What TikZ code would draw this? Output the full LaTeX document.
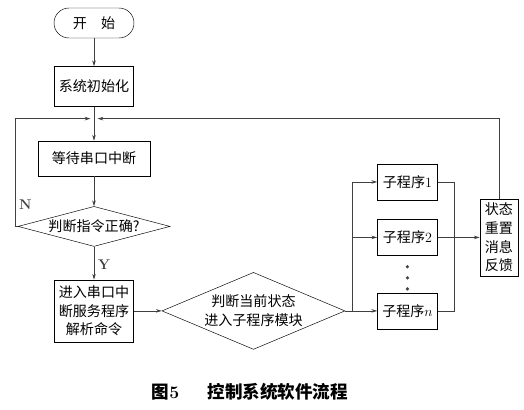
\documentclass[tikz,border=0pt]{standalone}
\usepackage{fontspec}
\newfontfamily\cjk{Noto Sans CJK SC}
\usetikzlibrary{positioning,arrows.meta,shapes.geometric,calc}

\begin{document}
\begin{tikzpicture}[
  x=0.03cm, y=-0.03cm,
  font=\cjk\fontsize{12}{16}\selectfont, >={Stealth[length=5pt,width=3pt]},
  box/.style={draw, align=center, inner sep=1pt,
              minimum width=2.37cm, minimum height=1.2cm},
  term/.style={draw, rounded corners=0.45cm,
               minimum width=2.4cm, minimum height=0.9cm},
  decision/.style={draw, diamond, inner sep=0pt},
  subbox/.style={draw, minimum width=1.8cm, minimum height=1.08cm},
  yn/.style={font=\rmfamily\bfseries\fontsize{12}{14}\selectfont},
  arr/.style={->, line width=0.5pt, color=black!75},
]
\useasboundingbox (0,0) rectangle (524,409);

\node[term] (start) at (94,23) {开\hspace{1em}始};
\node[box, below=0.84cm of start] (init) {系统初始化};
\node[box, minimum width=3.36cm, minimum height=1.05cm, below=1.02cm of init] (wait) {等待串口中断};
\node[decision, minimum width=4.56cm, minimum height=1.2cm, below=0.9cm of wait,
      label=center:{判断指令正确?}] (chk) {};
\node[box, minimum height=1.86cm, below=0.99cm of chk] (svc) {进入串口中\\断服务程序\\解析命令};
\node[decision, minimum width=5.49cm, minimum height=2.31cm, right=0.84cm of svc,
      label={[align=center]center:{判断当前状态\\进入子程序模块}}] (sel) {};

\node[subbox, right=0.96cm of sel] (subn) {子程序$n$};
\node[subbox, above=1.11cm of subn] (sub2) {子程序{\rmfamily 2}};
\node[subbox, above=0.57cm of sub2] (sub1) {子程序{\rmfamily 1}};
\node[box, minimum width=1.14cm, minimum height=2.31cm, right=1.26cm of sub2] (state)
  {状态\\重置\\消息\\反馈};

\node[font=\cjk\fontsize{15}{18}\selectfont\bfseries] (cap) at (250,392)
  {图{\rmfamily 5}\hspace{1.6em}控制系统软件流程};

\coordinate (mrg) at ($(init.south)!0.35!(wait.north)$);
\coordinate (bus) at ($(sel.east)+(7,0)$);
\coordinate (col) at ($(sub2.east)+(17,0)$);

\draw[arr] (start) -- (init);
\draw[arr] (init) -- (wait);
\draw[arr] (wait) -- (chk);
\draw[arr] (chk) -- node[pos=0.55, right, yn] {Y} (svc);
\draw[arr] (chk.west) -- ++(-2.5pt,0) |- node[pos=0.1, right, yn] {N} ([xshift=-3pt]mrg);
\draw[arr] (state.north) |- ([xshift=3pt]mrg);
\draw[arr] (svc) -- (sel);
\draw[arr] (sel) -- (subn);
\draw[arr, -] (bus |- subn) -- (bus |- sub1);
\draw[arr] (bus |- sub1) -- (sub1);
\draw[arr] (bus |- sub2) -- (sub2);
\draw[arr, -] (sub1) -| (col) |- (subn);
\draw[arr] (sub2) -- (state);
\foreach \k in {0,1,2}
  \fill[black!75] ($(sub2.south)!{0.3+0.3*\k}!(subn.north)$) circle (1.5pt);
\end{tikzpicture}
\end{document}
